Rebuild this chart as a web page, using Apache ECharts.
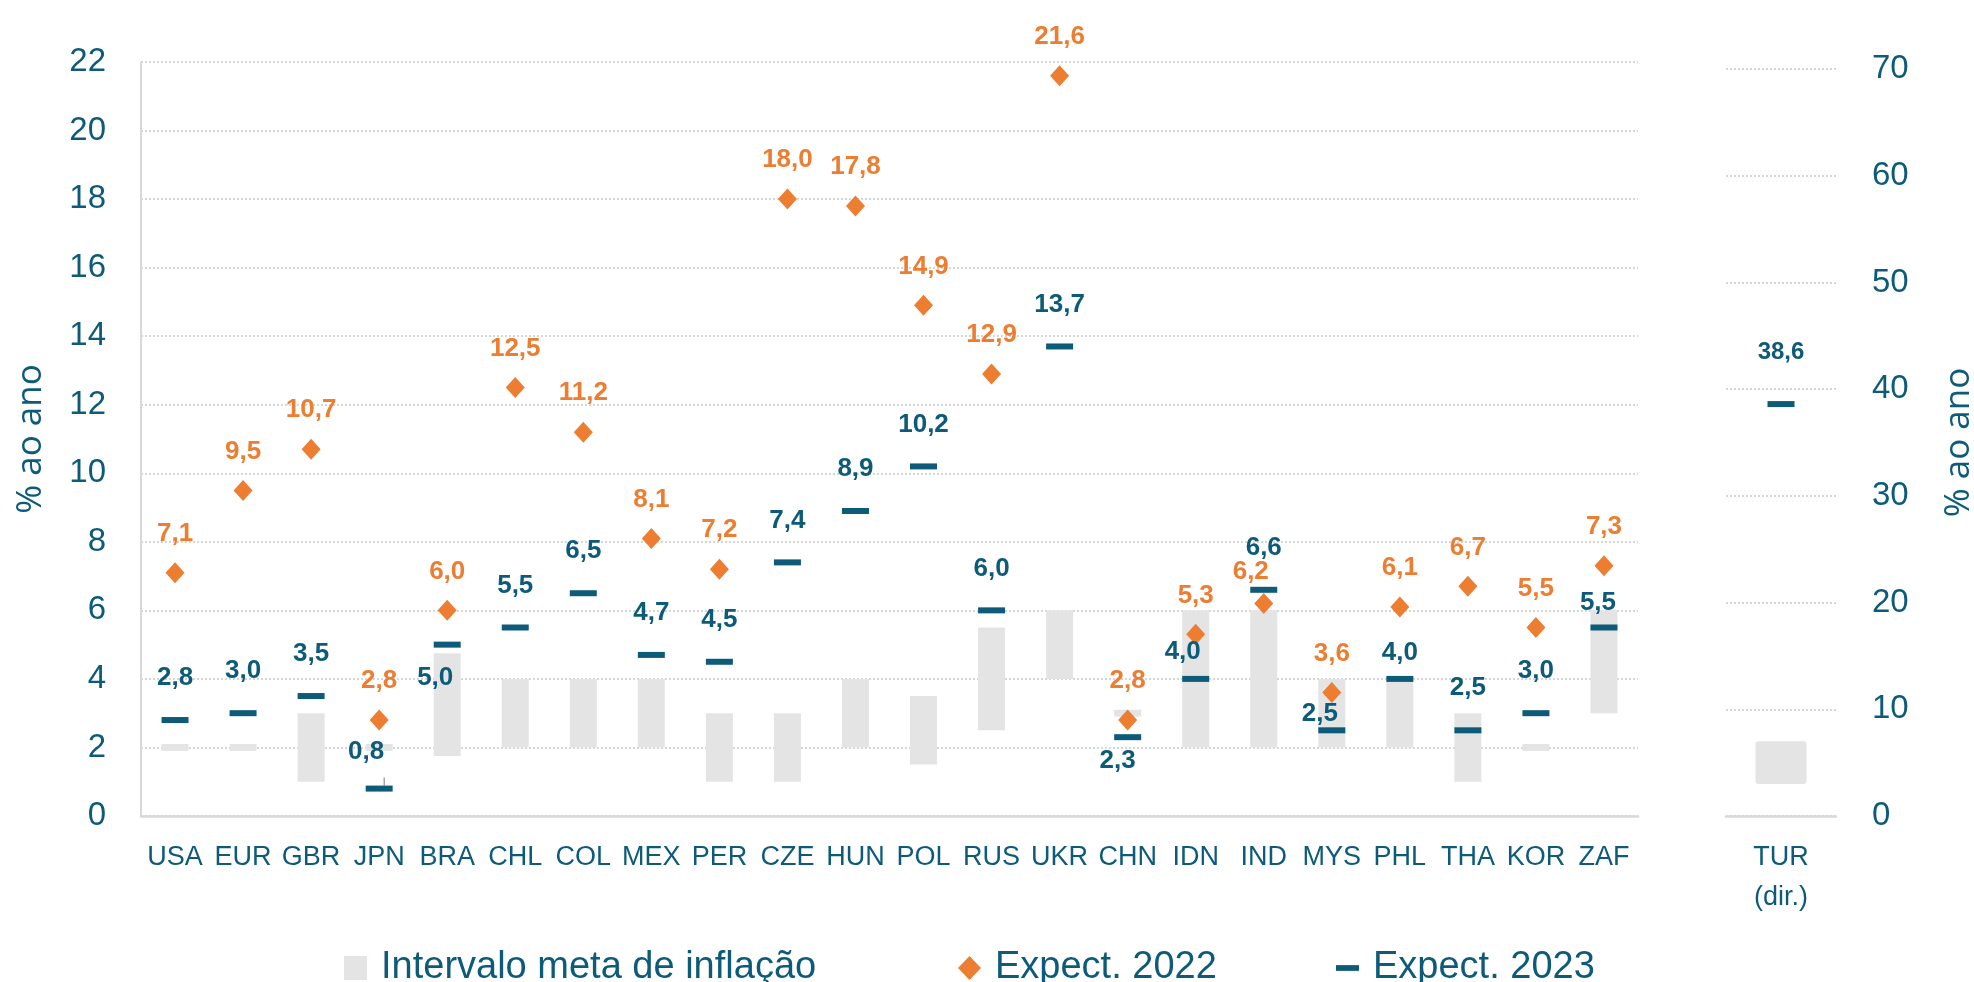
<!DOCTYPE html>
<html lang="pt">
<head>
<meta charset="UTF-8">
<title>Expectativas de inflação</title>
<style>
  html, body { margin: 0; padding: 0; background: #fff; }
  #chart { width: 1974px; height: 982px; }
</style>
</head>
<body>
<div id="chart"></div>
<script src="https://cdn.jsdelivr.net/npm/echarts@6.0.0/dist/echarts.min.js"></script>
<script>
// dados
var paises = ['USA', 'EUR', 'GBR', 'JPN', 'BRA', 'CHL', 'COL', 'MEX', 'PER', 'CZE', 'HUN',
              'POL', 'RUS', 'UKR', 'CHN', 'IDN', 'IND', 'MYS', 'PHL', 'THA', 'KOR', 'ZAF'];
var metaMin = [1.9, 1.9, 1, 1.9, 1.75, 2, 2, 2, 1, 1, 2, 1.5, 2.5, 4, 2.9, 2, 2, 2, 2, 1, 1.9, 3];
var metaMax = [2.1, 2.1, 3, 2.1, 4.75, 4, 4, 4, 3, 3, 4, 3.5, 5.5, 6, 3.1, 6, 6, 4, 4, 3, 2.1, 6];
var exp2022 = [7.1, 9.5, 10.7, 2.8, 6.0, 12.5, 11.2, 8.1, 7.2, 18.0, 17.8, 14.9, 12.9, 21.6,
               2.8, 5.3, 6.2, 3.6, 6.1, 6.7, 5.5, 7.3];
var exp2023 = [2.8, 3.0, 3.5, 0.8, 5.0, 5.5, 6.5, 4.7, 4.5, 7.4, 8.9, 10.2, 6.0, 13.7,
               2.3, 4.0, 6.6, 2.5, 4.0, 2.5, 3.0, 5.5];

// Turquia no eixo da direita
var turCat = ['TUR\n(dir.)'];
var turMetaMin = [3];
var turMetaMax = [7];
var tur2022 = [70.6];
var tur2023 = [38.6];

var ticksEsq = [0, 22, 2];   // min, max, intervalo
var ticksDir = [0, 70, 10];

// deslocamento dos rotulos (como no original do Excel)
var desloc2022 = { IND: [-13, -32] };
var desloc2023 = {
  JPN: [-13, -37], BRA: [-12, 33], CHN: [-10, 24], MYS: [-12, -16],
  ZAF: [-6, -25], IDN: [-13, -27], PHL: [0, -26]
};

var AZUL = '#0d5b78';
var LARANJA = '#ed7d31';
var CINZA = '#e4e4e4';
var FONTE = '"Liberation Sans", Arial, sans-serif';

function virgula(v) { return v.toFixed(1).replace('.', ','); }

function pontos(vals, desloc, padrao) {
  return vals.map(function (v, i) {
    var item = { value: v, label: { offset: desloc[paises[i]] || padrao } };
    if (paises[i] === 'JPN' && desloc === desloc2023) {
      item.labelLine = { show: true, lineStyle: { color: '#a6a6a6', width: 1.5 } };
    }
    return item;
  });
}

var faixa = metaMax.map(function (v, i) { return +(v - metaMin[i]).toFixed(2); });
var faixaTur = turMetaMax.map(function (v, i) { return v - turMetaMin[i]; });

var rotulo = function (cor) {
  return {
    show: true, position: 'inside', color: cor, fontFamily: FONTE,
    fontWeight: 'bold', fontSize: 26,
    formatter: function (p) { return virgula(p.value); }
  };
};

var gridLine = { show: true, lineStyle: { color: '#c9c9c9', width: 1.5, type: [2, 2] } };
var nomeEixo = { color: AZUL, fontSize: 35, fontFamily: '"Open Sans", sans-serif' };

// uma legenda por item, para acertar a posicao de cada um
function legenda(nome, icone, esq) {
  return {
    left: esq, top: 944,
    itemWidth: 23, itemHeight: 24,
    textStyle: { color: AZUL, fontSize: 38, fontFamily: FONTE, padding: [0, 0, 0, 9] },
    data: [{ name: nome, icon: icone }]
  };
}

var chart = echarts.init(document.getElementById('chart'));
chart.setOption({
  animation: false,
  backgroundColor: '#fff',
  textStyle: { fontFamily: FONTE },
  grid: [
    { left: 141, right: 336, top: 62, bottom: 166, outerBoundsMode: 'none' },
    { left: 1726, right: 138, top: 69, bottom: 166, outerBoundsMode: 'none' }
  ],
  legend: [
    legenda('Intervalo meta de inflação', 'rect', 339),
    legenda('Expect. 2022', 'diamond', 953),
    legenda('Expect. 2023', 'path://M0,0H24V6H0Z', 1331)
  ],
  xAxis: [
    {
      type: 'category', gridIndex: 0, data: paises,
      axisLine: { lineStyle: { color: '#d9d9d9', width: 2.5 } },
      axisTick: { show: false },
      axisLabel: { color: AZUL, fontSize: 27, interval: 0, margin: 27, lineHeight: 30 }
    },
    {
      type: 'category', gridIndex: 1, data: turCat,
      axisLine: { lineStyle: { color: '#d9d9d9', width: 2.5 } },
      axisTick: { show: false },
      axisLabel: { color: AZUL, fontSize: 27, interval: 0, margin: 22, lineHeight: 40 }
    }
  ],
  yAxis: [
    {
      type: 'value', gridIndex: 0, min: ticksEsq[0], max: ticksEsq[1], interval: ticksEsq[2],
      name: '% ao ano', nameLocation: 'middle', nameRotate: 90, nameGap: 92,
      nameTextStyle: nomeEixo,
      axisLine: { show: true, lineStyle: { color: '#d9d9d9', width: 2 } },
      axisTick: { show: false },
      axisLabel: { color: AZUL, fontSize: 33, margin: 35 },
      splitLine: gridLine
    },
    {
      type: 'value', gridIndex: 1, position: 'right',
      min: ticksDir[0], max: ticksDir[1], interval: ticksDir[2],
      name: '% ao ano', nameLocation: 'middle', nameRotate: 90, nameGap: 106,
      nameTextStyle: nomeEixo,
      axisLine: { show: false },
      axisTick: { show: false },
      axisLabel: { color: AZUL, fontSize: 33, margin: 36 },
      splitLine: gridLine
    }
  ],
  series: [
    {
      name: 'base', type: 'bar', stack: 'meta', xAxisIndex: 0, yAxisIndex: 0,
      barWidth: 27, itemStyle: { color: 'transparent' }, data: metaMin, silent: true
    },
    {
      name: 'Intervalo meta de inflação', type: 'bar', stack: 'meta', xAxisIndex: 0, yAxisIndex: 0,
      barWidth: 27, itemStyle: { color: CINZA }, data: faixa
    },
    {
      name: 'baseTur', type: 'bar', stack: 'metaTur', xAxisIndex: 1, yAxisIndex: 1,
      barWidth: 51, itemStyle: { color: 'transparent' }, data: turMetaMin, silent: true
    },
    {
      name: 'Intervalo meta de inflação', type: 'bar', stack: 'metaTur', xAxisIndex: 1, yAxisIndex: 1,
      barWidth: 51, itemStyle: { color: CINZA, borderRadius: 3 }, data: faixaTur
    },
    {
      name: 'Expect. 2022', type: 'scatter', xAxisIndex: 0, yAxisIndex: 0,
      symbol: 'diamond', symbolSize: [19, 21], itemStyle: { color: LARANJA, opacity: 1 },
      label: rotulo(LARANJA), data: pontos(exp2022, desloc2022, [0, -39]), z: 4
    },
    {
      name: 'Expect. 2023', type: 'scatter', xAxisIndex: 0, yAxisIndex: 0,
      symbol: 'rect', symbolSize: [27, 6], itemStyle: { color: AZUL, opacity: 1 },
      label: rotulo(AZUL), data: pontos(exp2023, desloc2023, [0, -42]), z: 4
    },
    {
      name: 'Expect. 2022', type: 'scatter', xAxisIndex: 1, yAxisIndex: 1,
      symbol: 'diamond', symbolSize: [18, 19], itemStyle: { color: LARANJA, opacity: 1 },
      label: Object.assign(rotulo(LARANJA), { offset: [0, -40], fontSize: 24 }), data: tur2022, z: 4
    },
    {
      name: 'Expect. 2023', type: 'scatter', xAxisIndex: 1, yAxisIndex: 1,
      symbol: 'rect', symbolSize: [27, 6], itemStyle: { color: AZUL, opacity: 1 },
      label: Object.assign(rotulo(AZUL), { offset: [0, -52], fontSize: 24 }), data: tur2023, z: 4
    }
  ]
});
</script>
</body>
</html>
